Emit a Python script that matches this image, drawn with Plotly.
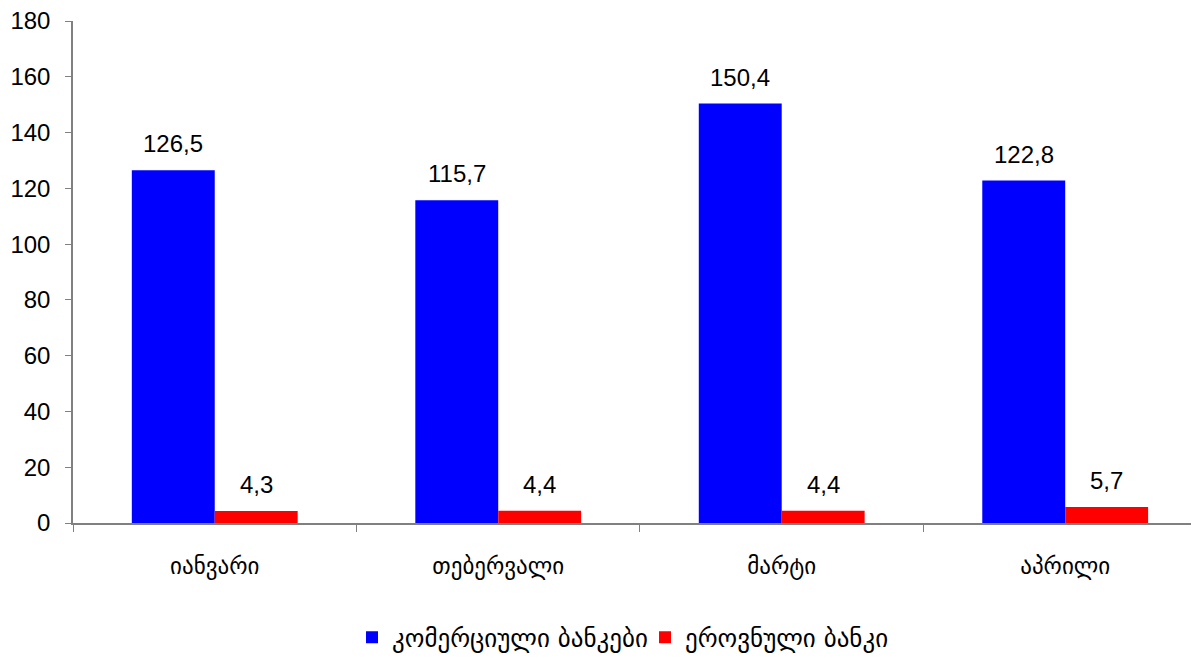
import plotly.graph_objects as go

months = ["იანვარი", "თებერვალი", "მარტი", "აპრილი"]
commercial = [126.5, 115.7, 150.4, 122.8]
national = [4.3, 4.4, 4.4, 5.7]
series_names = ["კომერციული ბანკები", "ეროვნული ბანკი"]
y_ticks = [0, 20, 40, 60, 80, 100, 120, 140, 160, 180]

def fmt(v):
    return f"{v:.1f}".replace(".", ",")

font_fam = "Liberation Sans, Arial, DejaVu Sans, sans-serif"
geo_fam = "DejaVu Sans, Noto Sans, sans-serif"

fig = go.Figure()
fig.add_bar(x=months, y=commercial, name=series_names[0], marker_color="#0000FF",
            marker_line_width=0)
fig.add_bar(x=months, y=national, name=series_names[1], marker_color="#FF0000",
            marker_line_width=0)

ann = []
for vals, shift in ((commercial, -41.5), (national, 41.5)):
    for m, v in zip(months, vals):
        ann.append(dict(x=m, y=v, xref="x", yref="y", text=fmt(v), showarrow=False,
                        xshift=shift, yshift=11, yanchor="bottom",
                        font=dict(family=font_fam, size=24, color="black")))

fig.update_layout(
    width=1199, height=660,
    margin=dict(l=65, r=8, t=13, b=143),
    plot_bgcolor="white", paper_bgcolor="white",
    barmode="group", bargap=0.415, bargroupgap=0,
    annotations=ann,
    showlegend=True,
    legend=dict(orientation="h", x=0.508, xanchor="center", y=-0.228, yanchor="middle",
                font=dict(family=geo_fam, size=25, color="black"),
                itemsizing="constant", entrywidth=248, entrywidthmode="pixels"),
    xaxis=dict(range=[-0.5, 3.472], showline=True, linecolor="#808080", linewidth=1.5,
               ticks="outside", tickson="boundaries", ticklen=7, tickcolor="#808080",
               ticklabelstandoff=22, automargin=False,
               tickfont=dict(family=geo_fam, size=23, color="black"),
               showgrid=False, zeroline=False),
    yaxis=dict(range=[0, 180], tickvals=y_ticks, showline=True, linecolor="#808080",
               linewidth=1.5, ticks="outside", ticklen=6, tickcolor="#808080",
               ticklabelstandoff=10, ticklabeloverflow="allow", automargin=False,
               tickfont=dict(family=font_fam, size=24, color="black"),
               showgrid=False, zeroline=False),
)
fig.write_html("out.html")
